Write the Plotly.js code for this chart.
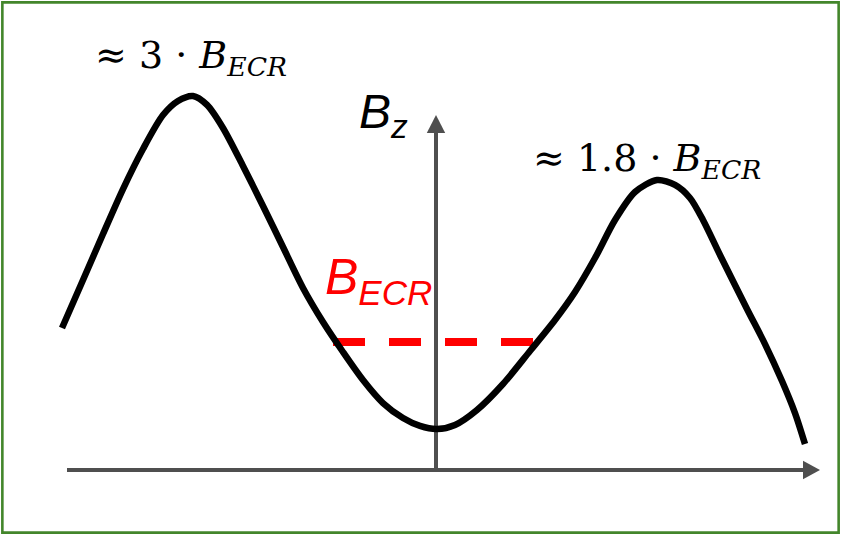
<!DOCTYPE html>
<html>
<head>
<meta charset="utf-8">
<script src="https://cdn.plot.ly/plotly-3.0.1.min.js"></script>
<style>
  html, body { margin: 0; padding: 0; background: #ffffff; }
  #chart { width: 841px; height: 535px; }
</style>
</head>
<body>
<div id="chart"></div>
<script>
// Axial magnetic field profile of a minimum-B trap, in units of B_ECR.
// z: position along the axis (arbitrary units), bz: field strength / B_ECR
const z = [-3.74, -3.53, -3.33, -3.13, -2.93, -2.73, -2.58, -2.43, -2.29, -2.13,
           -1.93, -1.73, -1.53, -1.33, -1.13, -0.93, -0.73, -0.53, -0.33, -0.16,
            0.01,  0.19,  0.41,  0.67,  0.94,  1.19,  1.39,  1.59,  1.79,  1.99,
            2.21,  2.39,  2.54,  2.67,  2.84,  3.11,  3.29,  3.46,  3.59,  3.69];
const bz = [1.109, 1.484, 1.844, 2.195, 2.508, 2.773, 2.883, 2.922, 2.852, 2.672,
            2.375, 2.063, 1.742, 1.422, 1.156, 0.922, 0.703, 0.523, 0.406, 0.344,
            0.320, 0.352, 0.469, 0.672, 0.930, 1.172, 1.391, 1.656, 1.953, 2.172,
            2.266, 2.227, 2.125, 1.953, 1.680, 1.258, 0.984, 0.695, 0.445, 0.203];

// Resonance level B = B_ECR, between the two crossings of the profile
const ecrZ = [-1.03, 0.97];
const ecrB = [1, 1];

// Axis extents (z axis and B axis, arrow tips)
const zAxisFrom = -3.69, zAxisTo = 3.84;
const bAxisTo = 2.773;

const axisColor = '#4f4f4f';
const axisWidth = 4;
const headLen = 0.17;    // arrow head length along z
const headHalfB = 0.072; // arrow head half height in B units
const headLenB = 0.14;   // arrow head length along B
const headHalfZ = 0.092; // arrow head half width in z units

const traces = [
  {
    x: ecrZ, y: ecrB, mode: 'lines', type: 'scatter',
    line: { color: '#ff0000', width: 8, dash: '32px,24px' },
    hoverinfo: 'skip'
  },
  {
    x: z, y: bz, mode: 'lines', type: 'scatter',
    line: { color: '#000000', width: 6.5, shape: 'spline', smoothing: 0.8 },
    hoverinfo: 'skip'
  }
];

const shapes = [
  // horizontal (z) axis
  { type: 'line', xref: 'x', yref: 'y', x0: zAxisFrom, x1: zAxisTo - headLen + 0.02, y0: 0, y1: 0,
    line: { color: axisColor, width: axisWidth }, layer: 'below' },
  { type: 'path', xref: 'x', yref: 'y',
    path: `M ${zAxisTo} 0 L ${zAxisTo - headLen} ${headHalfB} L ${zAxisTo - headLen} ${-headHalfB} Z`,
    fillcolor: axisColor, line: { width: 0 }, layer: 'below' },
  // vertical (B) axis
  { type: 'line', xref: 'x', yref: 'y', x0: 0, x1: 0, y0: 0, y1: bAxisTo - headLenB + 0.02,
    line: { color: axisColor, width: axisWidth }, layer: 'below' },
  { type: 'path', xref: 'x', yref: 'y',
    path: `M 0 ${bAxisTo} L ${-headHalfZ} ${bAxisTo - headLenB} L ${headHalfZ} ${bAxisTo - headLenB} Z`,
    fillcolor: axisColor, line: { width: 0 }, layer: 'below' },
  // frame
  { type: 'rect', xref: 'paper', yref: 'paper', x0: 0.0028, x1: 0.9972, y0: 0.0045, y1: 0.9955,
    line: { color: '#43862b', width: 2.6 }, fillcolor: 'rgba(0,0,0,0)' }
];

const serif = { family: 'DejaVu Serif, Liberation Serif, serif', size: 38, color: '#000000' };

const annotations = [
  { xref: 'x', yref: 'y', x: -3.43, y: 3.22, xanchor: 'left', yanchor: 'middle', showarrow: false,
    text: '≈ 3 · <i>B</i><sub><i>ECR</i></sub>', font: serif },
  { xref: 'x', yref: 'y', x: 0.95, y: 2.42, xanchor: 'left', yanchor: 'middle', showarrow: false,
    text: '≈ 1.8 · <i>B</i><sub><i>ECR</i></sub>', font: serif },
  { xref: 'x', yref: 'y', x: -0.79, y: 2.77, xanchor: 'left', yanchor: 'middle', showarrow: false,
    text: '<i>B</i><sub><i>z</i></sub>',
    font: { family: 'Liberation Sans, Arial, sans-serif', size: 48, color: '#000000' } },
  { xref: 'x', yref: 'y', x: -1.13, y: 1.48, xanchor: 'left', yanchor: 'middle', showarrow: false,
    text: '<i>B</i><sub><i>ECR</i></sub>',
    font: { family: 'Liberation Sans, Arial, sans-serif', size: 50, color: '#ff0000' } }
];

const layout = {
  width: 841, height: 535,
  margin: { l: 0, r: 0, t: 0, b: 0, pad: 0 },
  paper_bgcolor: '#ffffff', plot_bgcolor: '#ffffff',
  showlegend: false,
  xaxis: { range: [-4.36, 4.05], visible: false, fixedrange: true },
  yaxis: { range: [-0.5078, 3.6719], visible: false, fixedrange: true },
  shapes: shapes,
  annotations: annotations
};

Plotly.newPlot('chart', traces, layout, { staticPlot: true, displayModeBar: false });
</script>
</body>
</html>
